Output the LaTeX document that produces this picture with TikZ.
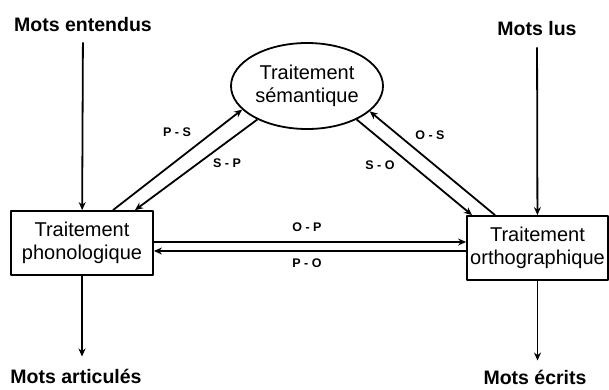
\documentclass[tikz,border=0pt]{standalone}
\usepackage{fontspec}
\setmainfont{Liberation Sans}
\usetikzlibrary{shapes.geometric,arrows.meta}
\tikzset{
	boite/.style={draw, line width=1.8pt, minimum width=142pt, minimum height=64pt, inner sep=1pt, align=center, font=\fontsize{20}{23}\selectfont},
	mots/.style={font=\fontsize{19.5}{22}\selectfont\bfseries},
	lien/.style={font=\fontsize{12.5}{14}\selectfont\bfseries}
}
\begin{document}
\begin{tikzpicture}[x=1pt, y=-1pt, >={Stealth[length=8pt,width=7pt]}, line width=1.8pt, line join=round]
	\useasboundingbox (0,0) rectangle (609,389);
	\node [boite] (phon) at (82,243) {Traitement\\phonologique};
	\node [boite, minimum width=141pt] (ortho) at (537.5,248) {Traitement\\orthographique};
	\node [draw, ellipse, line width=1.8pt, minimum width=152pt, minimum height=86pt, inner sep=0pt, align=center, font=\fontsize{20}{23}\selectfont] (sem) at (307,86) {Traitement\\sémantique};
	\node [mots] (ent) at (83,25) {Mots entendus};
	\node [mots] (lus) at (537,29) {Mots lus};
	\node [mots] (art) at (76,376) {Mots articulés};
	\node [mots] (ecr) at (535,377) {Mots écrits};
	% entrees et sorties
	\draw [->, shorten <=6pt] (ent) -- (phon);
	\draw [->, shorten <=7pt] (lus) -- (ortho);
	\draw [->, shorten >=8pt] (phon.south) -- (phon.south |- art.north);
	\draw [->, shorten >=5pt] (ortho.south) -- (ortho.south |- ecr.north);
	% liens entre traitements
	\draw [->] ([xshift=31pt]phon.north) -- (sem.200);
	\draw [->] (sem.214) -- ([xshift=53pt]phon.north);
	\draw [->] ([xshift=-42.5pt]ortho.north) -- (sem.338);
	\draw [->] (sem.326) -- ([xshift=-65.5pt]ortho.north);
	\draw [->] ([yshift=1pt]phon.east) -- ([yshift=1pt]phon.east -| ortho.west);
	\draw [->] ([yshift=-8pt]phon.east -| ortho.west) -- ([yshift=-8pt]phon.east);
	\node [lien] (ps) at (177,132) {P - S};
	\node [lien] (sp) at (227,163) {S - P};
	\node [lien] (os) at (430,135) {O - S};
	\node [lien] (so) at (380,165) {S - O};
	\node [lien] (op) at (307,227) {O - P};
	\node [lien] (po) at (307,263) {P - O};
\end{tikzpicture}
\end{document}
